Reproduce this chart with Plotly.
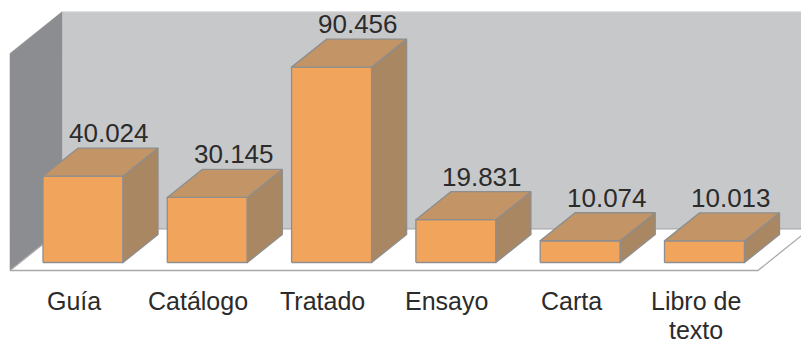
import plotly.graph_objects as go

# Document types and their counts
categories = ["Guía", "Catálogo", "Tratado", "Ensayo", "Carta", "Libro de\ntexto"]
values = [40.024, 30.145, 90.456, 19.831, 10.074, 10.013]
value_labels = ["40.024", "30.145", "90.456", "19.831", "10.074", "10.013"]

# Pseudo-3D geometry (category units on x, value units on y)
BAR_HALF = 0.322          # half width of a bar's front face
DX, DY = 0.2816, 12.96    # oblique offset for one bar depth
FLOOR_FRONT, FLOOR_BACK = -0.286, 1.2   # floor depth extent (in bar depths)
WALL_TOP = 100.5
X_LEFT, X_RIGHT = -0.507, 5.51

FRONT = "#F1A45B"
TOP = "#C39465"
SIDE = "#A98763"
EDGE = "#8E8E8E"
BACK_WALL = "#C7C8CA"
SIDE_WALL = "#8C8D91"
TEXT = "#2B2B2B"
FONT = "Liberation Sans, Arial, sans-serif"


def proj(x, v, d):
    """Project a point (x, value, depth) onto the flat plot."""
    return x + d * DX, v + d * DY


def poly(points, fill, line_color=EDGE, width=1.3):
    xs, ys = zip(*[proj(*p) for p in points])
    xs = list(xs) + [xs[0]]
    ys = list(ys) + [ys[0]]
    return go.Scatter(
        x=xs, y=ys, mode="lines", fill="toself", fillcolor=fill,
        line=dict(color=line_color, width=width), hoverinfo="skip",
        showlegend=False,
    )


fig = go.Figure()

# back wall
fig.add_trace(poly([(X_LEFT, 0, FLOOR_BACK), (X_RIGHT + 1, 0, FLOOR_BACK),
                    (X_RIGHT + 1, WALL_TOP, FLOOR_BACK), (X_LEFT, WALL_TOP, FLOOR_BACK)],
                   BACK_WALL, line_color="#D5D6D8", width=1))
# side wall
fig.add_trace(poly([(X_LEFT, 0, FLOOR_FRONT), (X_LEFT, 0, FLOOR_BACK),
                    (X_LEFT, WALL_TOP, FLOOR_BACK), (X_LEFT, WALL_TOP, FLOOR_FRONT)],
                   SIDE_WALL, line_color=SIDE_WALL, width=0.5))
# floor
fig.add_trace(poly([(X_LEFT, 0, FLOOR_FRONT), (X_RIGHT, 0, FLOOR_FRONT),
                    (X_RIGHT, 0, FLOOR_BACK), (X_LEFT, 0, FLOOR_BACK)],
                   "#FFFFFF", line_color="#A9A9A9", width=1.3))

# bars
for i, v in enumerate(values):
    l, r = i - BAR_HALF, i + BAR_HALF
    fig.add_trace(poly([(l, 0, 0), (r, 0, 0), (r, v, 0), (l, v, 0)], FRONT))
    fig.add_trace(poly([(r, 0, 0), (r, 0, 1), (r, v, 1), (r, v, 0)], SIDE))
    fig.add_trace(poly([(l, v, 0), (r, v, 0), (r, v, 1), (l, v, 1)], TOP))

annotations = []
for i, (v, lab) in enumerate(zip(values, value_labels)):
    x, y = proj(i, v, 1)
    annotations.append(dict(
        x=x - 0.07, y=y, text=lab, showarrow=False, xanchor="center",
        yanchor="bottom", yshift=-2,
        font=dict(family=FONT, size=26, color=TEXT),
    ))
# category labels, one annotation per text line
for i, c in enumerate(categories):
    for k, line in enumerate(c.split("\n")):
        annotations.append(dict(
            x=i, y=-10.5, text=line, showarrow=False, xanchor="center",
            yanchor="top", xshift=-9, yshift=-29 * k,
            font=dict(family=FONT, size=25, color=TEXT),
        ))

fig.update_layout(
    width=801, height=346,
    margin=dict(l=0, r=0, t=0, b=0),
    paper_bgcolor="white", plot_bgcolor="white",
    xaxis=dict(range=[-83 / 124.3, (801 - 83) / 124.3], visible=False, fixedrange=True),
    yaxis=dict(range=[-83.5 / 2.16, 262.5 / 2.16], visible=False, fixedrange=True),
    annotations=annotations,
    showlegend=False,
)

fig.write_html("out.html")
